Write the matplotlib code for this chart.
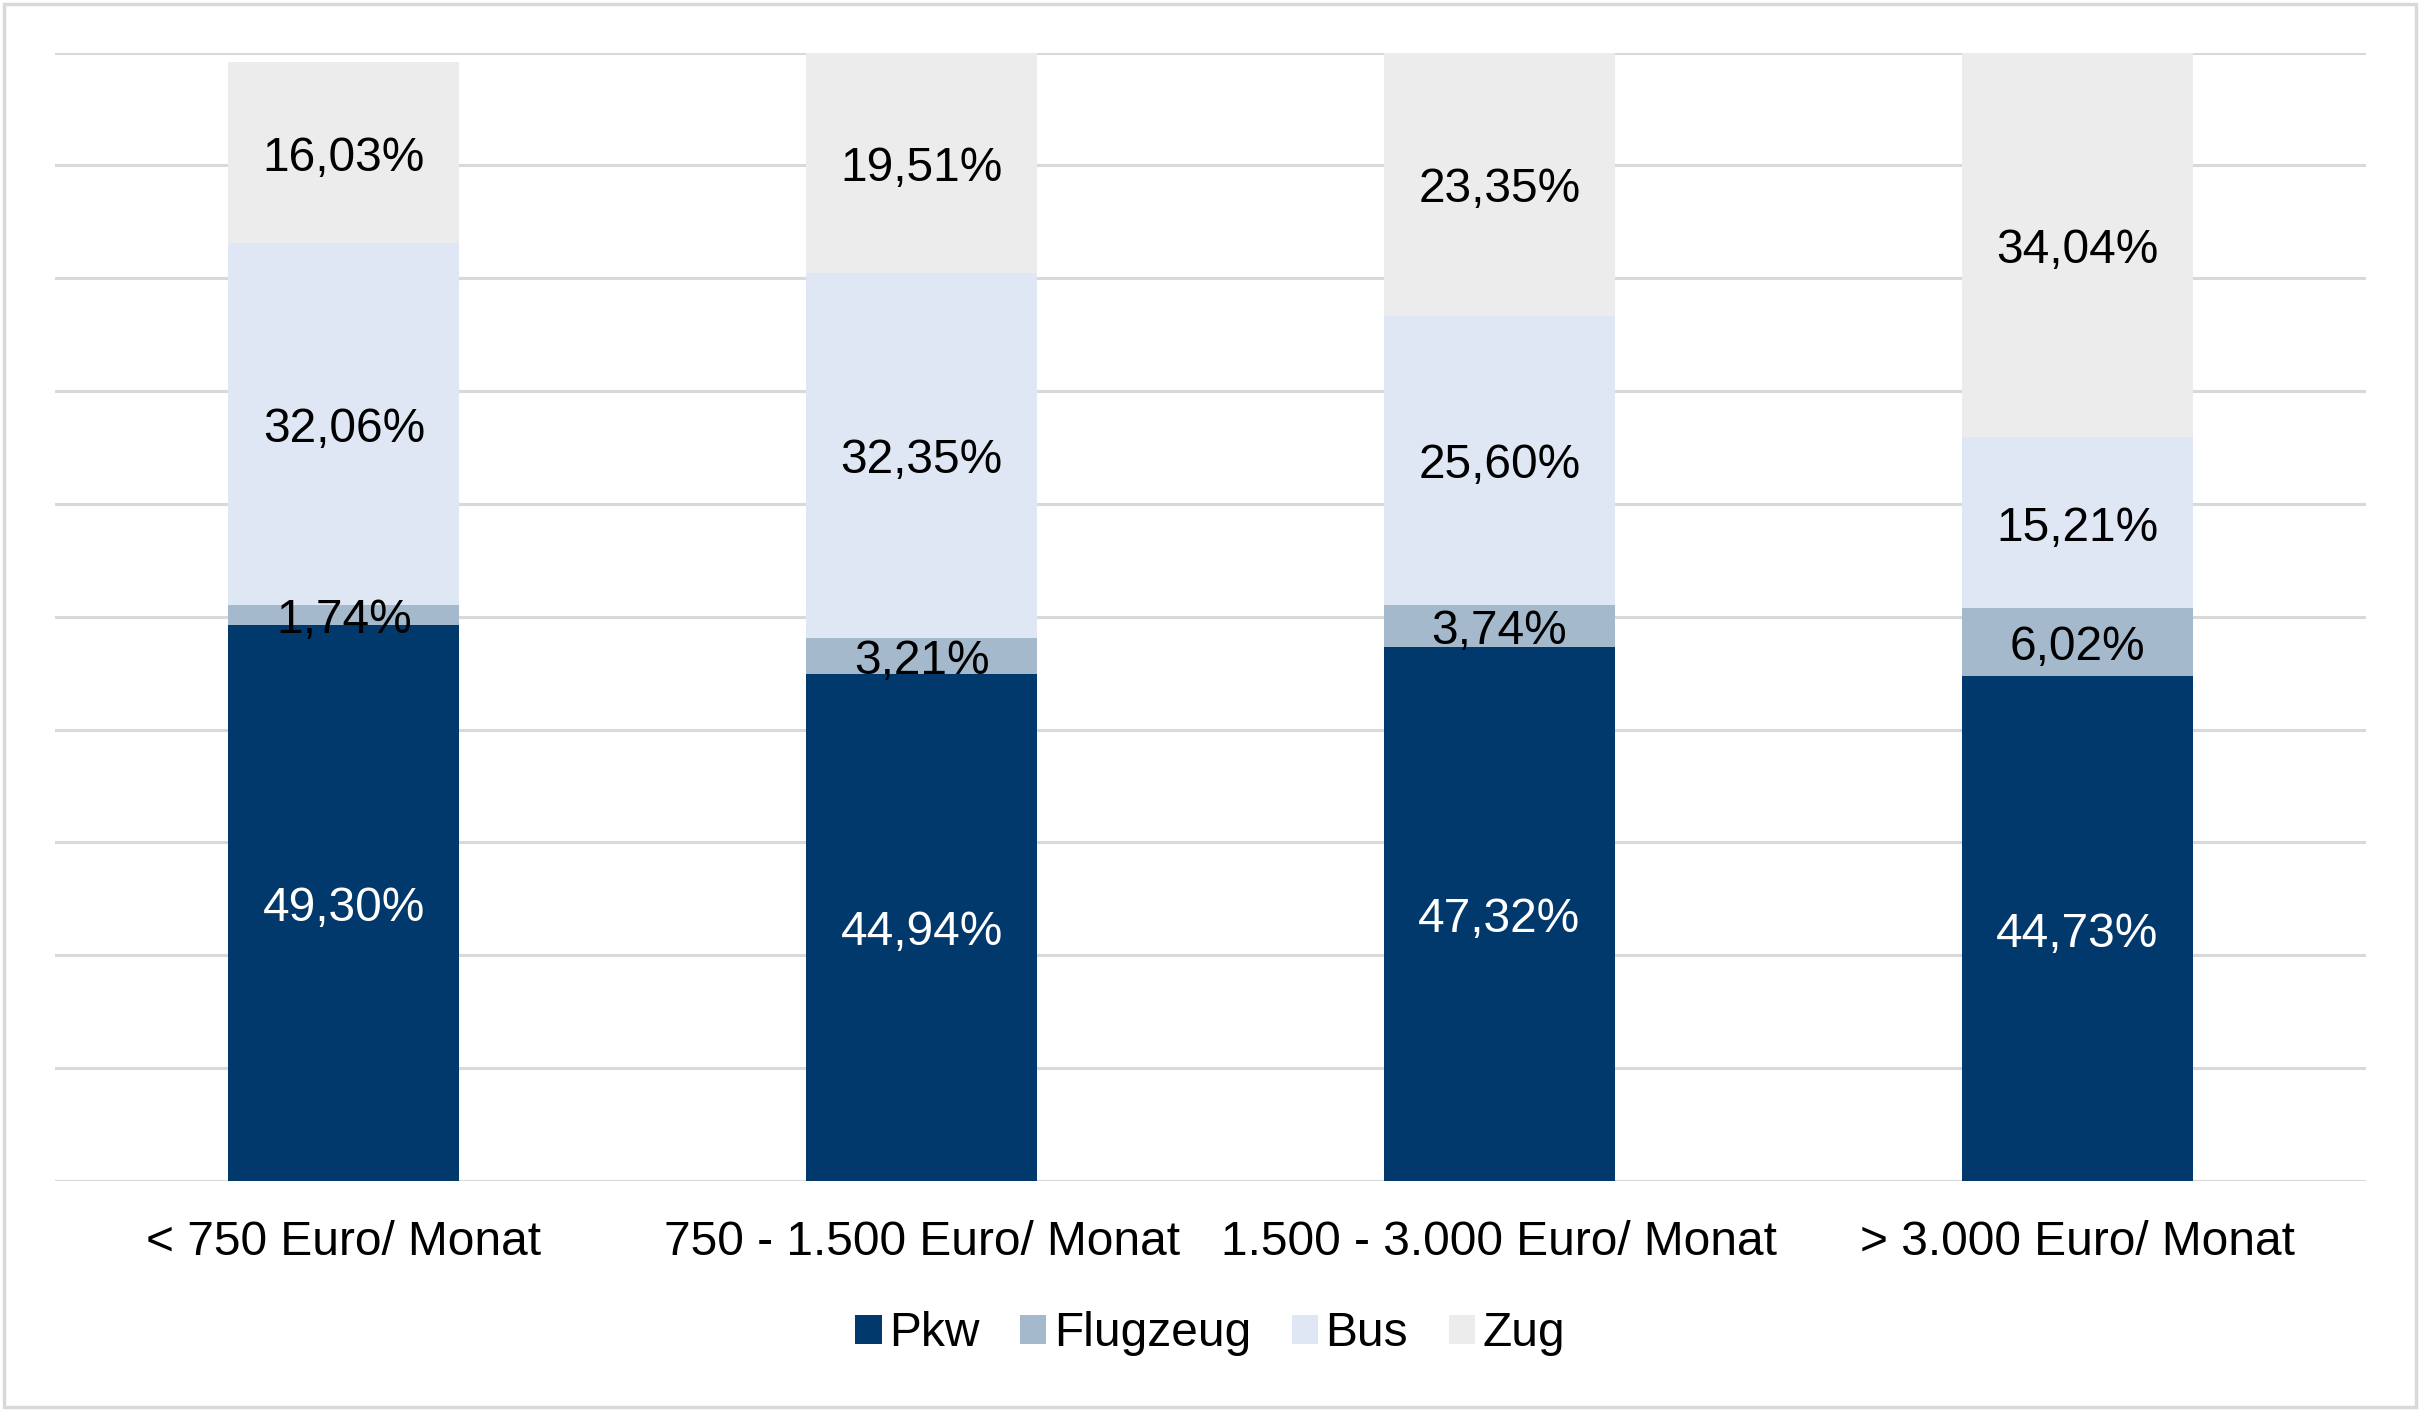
import matplotlib
matplotlib.use("Agg")
import matplotlib.pyplot as plt
from matplotlib.patches import Rectangle
import numpy as np

categories = ["< 750 Euro/ Monat", "750 - 1.500 Euro/ Monat", "1.500 - 3.000 Euro/ Monat", "> 3.000 Euro/ Monat"]
series_names = ["Pkw", "Flugzeug", "Bus", "Zug"]
pkw = [49.30, 44.94, 47.32, 44.73]
flugzeug = [1.74, 3.21, 3.74, 6.02]
bus = [32.06, 32.35, 25.60, 15.21]
zug = [16.03, 19.51, 23.35, 34.04]
colors = ["#02396D", "#A4B9CC", "#DFE7F5", "#EBECEB"]
label_colors = ["white", "black", "black", "black"]

plt.rcParams['font.family'] = ['Liberation Sans', 'DejaVu Sans']

fig = plt.figure(figsize=(24.2, 14.11), dpi=100)
ax = fig.add_axes([55/2420, 1 - 1181/1411, (2366-55)/2420, (1181-52.5)/1411])

x = np.arange(len(categories))
bottom = np.zeros(len(categories))
data = [pkw, flugzeug, bus, zug]
for vals, name, col, lc in zip(data, series_names, colors, label_colors):
    vals = np.array(vals)
    ax.bar(x, vals, width=0.4, bottom=bottom, color=col, label=name, zorder=3)
    for xi, b, v in zip(x, bottom, vals):
        ax.annotate(f"{v:.2f}%".replace(".", ","), (xi, b + v / 2), xytext=(0, -4),
                    textcoords="offset points", ha="center", va="center",
                    fontsize=34.5, color=lc, zorder=4)
    bottom += vals

ax.set_xlim(-0.5, 3.5)
ax.set_ylim(0, 100)
ax.set_yticks(np.arange(0, 101, 10))
ax.set_yticklabels([])
ax.tick_params(axis="y", length=0)
ax.tick_params(axis="x", length=0, pad=28, labelsize=34.5)
ax.set_xticks(x)
ax.set_xticklabels(categories)
ax.grid(axis="y", color="#D9D9D9", linewidth=2.2, zorder=0)
for s in ax.spines.values():
    s.set_visible(False)

leg = fig.legend(loc="center", bbox_to_anchor=(0.5, 1 - 1334/1411), ncol=4, frameon=False,
                 fontsize=34.5, handlelength=0.55, handleheight=0.55, handletextpad=0.15,
                 columnspacing=0.85)

fig.patches.append(Rectangle((4/2420, 4/1411), 1 - 8/2420, 1 - 8/1411, transform=fig.transFigure,
                             fill=False, edgecolor="#D9D9D9", linewidth=2.5))

fig.savefig("out.png", dpi=100, facecolor="white")
